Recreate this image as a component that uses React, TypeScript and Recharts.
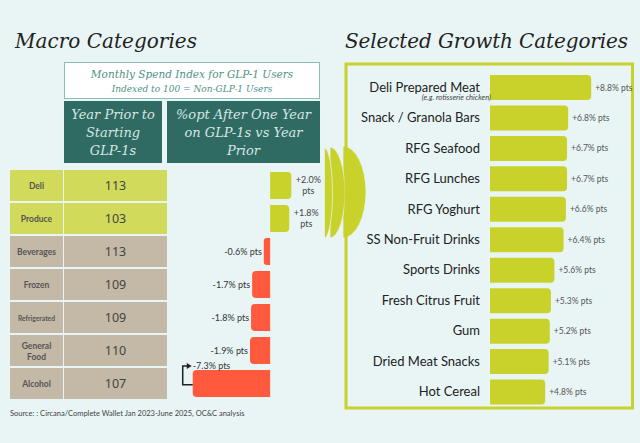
import React from "react";
import { BarChart, Bar, XAxis, YAxis, LabelList } from "recharts";

// ---------- DATA ----------
const macroCategories = ["Deli", "Produce", "Beverages", "Frozen", "Refrigerated", "General Food", "Alcohol"];
const spendIndex = [113, 103, 113, 109, 109, 110, 107];
const ptChange = [2.0, 1.8, -0.6, -1.7, -1.8, -1.9, -7.3];

const growthCategories = [
  "Deli Prepared Meat",
  "Snack / Granola Bars",
  "RFG Seafood",
  "RFG Lunches",
  "RFG Yoghurt",
  "SS Non-Fruit Drinks",
  "Sports Drinks",
  "Fresh Citrus Fruit",
  "Gum",
  "Dried Meat Snacks",
  "Hot Cereal",
];
const growthNotes = ["(e.g. rotisserie chicken)", "", "", "", "", "", "", "", "", "", ""];
const growthValues = [8.8, 6.8, 6.7, 6.7, 6.6, 6.4, 5.6, 5.3, 5.2, 5.1, 4.8];

// ---------- STYLE ----------
const BG = "#e9f5f5";
const LIME = "#c9d22b";
const RED = "#ff5a3d";
const TEAL = "#2f6b63";
const TABLE_GREEN = "#d1da5b";
const TABLE_BROWN = "#c4b8a7";
const SERIF = "'DejaVu Serif', serif";
const SANS = "Lato, 'Noto Sans', sans-serif";

const macroData = macroCategories.map((name, i) => ({ name, index: spendIndex[i], change: ptChange[i] }));
const growthData = growthCategories.map((name, i) => ({ name, note: growthNotes[i], value: growthValues[i] }));

function roundedEndPath(left: number, top: number, w: number, h: number, r: number, roundRight: boolean) {
  const rr = Math.max(0, Math.min(r, w / 2, h / 2));
  const right = left + w;
  const bottom = top + h;
  if (roundRight) {
    return `M${left},${top} H${right - rr} A${rr},${rr} 0 0 1 ${right},${top + rr} V${bottom - rr} A${rr},${rr} 0 0 1 ${right - rr},${bottom} H${left} Z`;
  }
  return `M${right},${top} H${left + rr} A${rr},${rr} 0 0 0 ${left},${top + rr} V${bottom - rr} A${rr},${rr} 0 0 0 ${left + rr},${bottom} H${right} Z`;
}

function MacroBarShape(props: any) {
  const { x, y, width, height, payload } = props;
  const left = Math.min(x, x + width);
  const w = Math.abs(width);
  const pos = payload.change >= 0;
  return <path d={roundedEndPath(left, y, w, height, 4, pos)} fill={pos ? LIME : RED} />;
}

function GrowthBarShape(props: any) {
  const { x, y, width, height } = props;
  return <path d={roundedEndPath(x, y, width, height, 4, true)} fill={LIME} />;
}

function MacroLabel(props: any) {
  const { x, y, width, height, value } = props;
  const left = Math.min(x, x + width);
  const right = Math.max(x, x + width);
  const w = Math.abs(width);
  const cy = y + height / 2;
  const txt = `${value > 0 ? "+" : ""}${value.toFixed(1)}%`;
  if (value >= 0) {
    const cx = right + 17;
    return (
      <g fontFamily={SANS} fontSize={9} fill="#444">
        <text x={cx} y={cy - 3} textAnchor="middle">{txt}</text>
        <text x={cx} y={cy + 8} textAnchor="middle">pts</text>
      </g>
    );
  }
  if (w > 50) {
    const ax = left - 10;
    const ay = y - 4;
    return (
      <g>
        <path d={`M${left},${y + height * 0.55} H${ax} V${ay} H${ax + 5}`} fill="none" stroke="#222" strokeWidth={1.5} />
        <path d={`M${ax + 9},${ay} L${ax + 4},${ay - 3} L${ax + 4},${ay + 3} Z`} fill="#222" />
        <text x={left} y={y - 1} fontFamily={SANS} fontSize={9} fill="#333">{txt} pts</text>
      </g>
    );
  }
  return (
    <text x={left - 2} y={cy + 3} textAnchor="end" fontFamily={SANS} fontSize={9} fill="#333">
      {txt} pts
    </text>
  );
}

function GrowthLabel(props: any) {
  const { x, y, width, height, value } = props;
  return (
    <text x={x + width + 4} y={y + height / 2 + 3} fontFamily={SANS} fontSize={8.5} fill="#555">
      {`+${Number(value).toFixed(1)}% pts`}
    </text>
  );
}

function TableTick(props: any) {
  const { y, payload } = props;
  const i = payload.index;
  const name: string = macroCategories[i];
  const fill = ptChange[i] >= 0 ? TABLE_GREEN : TABLE_BROWN;
  const h = 31;
  const words = name.split(" ");
  const fs = Math.min(8.5, 42 / (name.length * 0.52));
  return (
    <g>
      <rect x={10} y={y - h / 2} width={53} height={h} fill={fill} />
      <rect x={64} y={y - h / 2} width={103} height={h} fill={fill} />
      {words.length > 1 ? (
        <text x={36.5} textAnchor="middle" fontFamily={SANS} fontWeight={700} fontSize={8.5} fill="#555">
          <tspan x={36.5} y={y - 2}>{words[0]}</tspan>
          <tspan x={36.5} y={y + 9}>{words.slice(1).join(" ")}</tspan>
        </text>
      ) : (
        <text x={36.5} y={y + 3} textAnchor="middle" fontFamily={SANS} fontWeight={700} fontSize={fs} fill="#555">
          {name}
        </text>
      )}
      <text x={115.5} y={y + 4.5} textAnchor="middle" fontFamily="'Noto Sans', sans-serif" fontSize={12.5} fill="#444">
        {spendIndex[i]}
      </text>
    </g>
  );
}

function GrowthTick(props: any) {
  const { y, payload } = props;
  const i = payload.index;
  const note = growthNotes[i];
  return (
    <g>
      <text x={480} y={y + 4.5} textAnchor="end" fontFamily={SANS} fontSize={13} fill="#222">
        {payload.value}
      </text>
      {note ? (
        <text x={491} y={y + 13} textAnchor="end" fontFamily={SANS} fontStyle="italic" fontSize={7.5} fill="#444">
          {note}
        </text>
      ) : null}
    </g>
  );
}

function halfEllipse(xL: number, top: number, bottom: number, rx: number) {
  const ry = (bottom - top) / 2;
  return `M${xL},${top} A${rx},${ry} 0 0 1 ${xL},${bottom} Z`;
}

function Decorations() {
  return (
    <svg width={640} height={443} style={{ position: "absolute", left: 0, top: 0 }}>
      <text x={15} y={48} fontFamily={SERIF} fontStyle="italic" fontSize={20} fill="#222" textLength={182}>
        Macro Categories
      </text>
      <text x={345} y={48} fontFamily={SERIF} fontStyle="italic" fontSize={20} fill="#222" textLength={283}>
        Selected Growth Categories
      </text>

      <rect x={64.5} y={62.5} width={255} height={36} fill="#ffffff" stroke="#8dbdb6" strokeWidth={1} />
      <text x={192} y={78} textAnchor="middle" fontFamily={SERIF} fontStyle="italic" fontSize={10.5} fill="#4e9288">
        Monthly Spend Index for GLP-1 Users
      </text>
      <text x={192} y={92} textAnchor="middle" fontFamily={SERIF} fontStyle="italic" fontSize={9} fill="#4e9288">
        Indexed to 100 = Non-GLP-1 Users
      </text>

      <rect x={64} y={101} width={98} height={62} fill={TEAL} />
      <rect x={167} y={101} width={153} height={62} fill={TEAL} />
      <g fontFamily={SERIF} fontStyle="italic" fontSize={13} fill="#d5e6e2" textAnchor="middle">
        <text x={113} y={119}>Year Prior to</text>
        <text x={113} y={137}>Starting</text>
        <text x={113} y={155}>GLP-1s</text>
        <text x={243.5} y={119}>%opt  After One Year</text>
        <text x={243.5} y={137}>on GLP-1s vs Year</text>
        <text x={243.5} y={155}>Prior</text>
      </g>

      <g fill={LIME} stroke={BG} strokeWidth={0.7}>
        <path d={halfEllipse(343, 146, 238, 23)} />
        <path d={halfEllipse(330, 147, 238, 15)} />
        <path d={halfEllipse(324.5, 148, 238, 8)} />
      </g>

      <rect x={346} y={64} width={286.5} height={344} fill="none" stroke={LIME} strokeWidth={3} />

      <text x={10} y={416} fontFamily={SANS} fontSize={7.5} fill="#444">
        Source: : Circana/Complete Wallet Jan 2023-June 2025, OC&amp;C analysis
      </text>
    </svg>
  );
}

export default function App() {
  return (
    <div
      style={{
        position: "absolute",
        left: 0,
        top: 0,
        width: 640,
        height: 443,
        background: BG,
        overflow: "hidden",
      }}
    >
      <Decorations />
      <div style={{ position: "absolute", left: 0, top: 0 }}>
        <BarChart
          width={640}
          height={443}
          layout="vertical"
          data={macroData}
          margin={{ top: 169, bottom: 43, left: 10, right: 320 }}
          barSize={27}
        >
          <XAxis type="number" domain={[-8.5, 4.7]} hide />
          <YAxis
            type="category"
            dataKey="name"
            width={170}
            axisLine={false}
            tickLine={false}
            tick={<TableTick />}
            interval={0}
          />
          <Bar dataKey="change" isAnimationActive={false} shape={<MacroBarShape />}>
            <LabelList dataKey="change" content={<MacroLabel />} />
          </Bar>
        </BarChart>
      </div>
      <div style={{ position: "absolute", left: 0, top: 0 }}>
        <BarChart
          width={640}
          height={443}
          layout="vertical"
          data={growthData}
          margin={{ top: 72, bottom: 36, left: 345, right: 12 }}
          barSize={25}
        >
          <XAxis type="number" domain={[0, 12]} hide />
          <YAxis
            type="category"
            dataKey="name"
            width={145}
            axisLine={false}
            tickLine={false}
            tick={<GrowthTick />}
            interval={0}
          />
          <Bar dataKey="value" isAnimationActive={false} shape={<GrowthBarShape />}>
            <LabelList dataKey="value" content={<GrowthLabel />} />
          </Bar>
        </BarChart>
      </div>
    </div>
  );
}
